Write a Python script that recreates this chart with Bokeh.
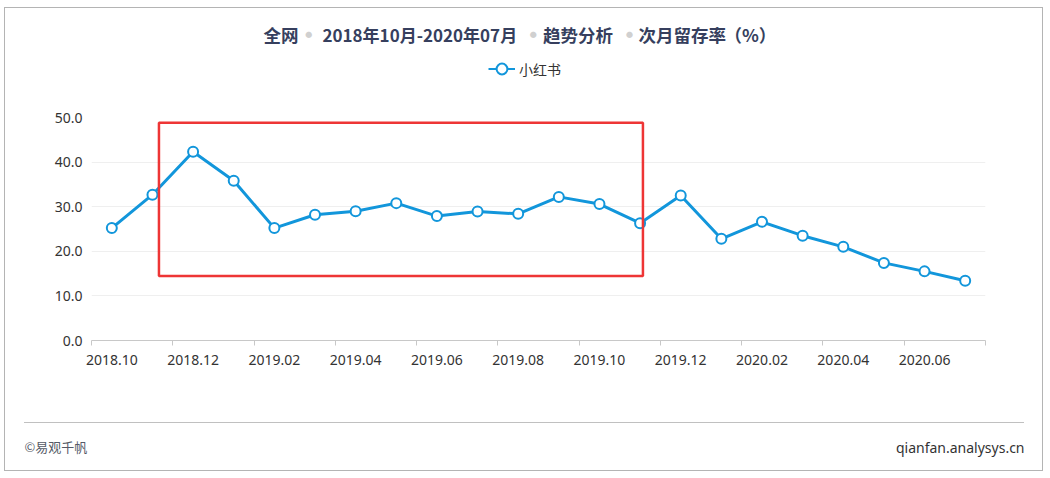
from bokeh.plotting import figure
from bokeh.layouts import column
from bokeh.models import (Range1d, FixedTicker, NumeralTickFormatter, Label, Legend,
                          LegendItem, BoxAnnotation)
from bokeh.embed import file_html
from bokeh.resources import INLINE

# ---------------- data ----------------
months = ["2018.10", "2018.11", "2018.12", "2019.01", "2019.02", "2019.03",
          "2019.04", "2019.05", "2019.06", "2019.07", "2019.08", "2019.09",
          "2019.10", "2019.11", "2019.12", "2020.01", "2020.02", "2020.03",
          "2020.04", "2020.05", "2020.06", "2020.07"]
retention = [25.2, 32.7, 42.3, 35.8, 25.2, 28.2,
             29.0, 30.8, 27.9, 28.9, 28.4, 32.2,
             30.6, 26.3, 32.5, 22.8, 26.6, 23.5,
             21.0, 17.4, 15.5, 13.4]
series_name = "小红书"
y_ticks = [0, 10, 20, 30, 40, 50]
title_parts = ["全网", "2018年10月-2020年07月", "趋势分析", "次月留存率", "（%）"]
footer_left = "©易观千帆"
footer_right = "qianfan.analysys.cn"

# ---------------- layout constants ----------------
W = 1037
TOP_H, MAIN_H, BOT_H = 92, 300, 70
FRAME_L, FRAME_W = 86, 894
FRAME_T, FRAME_H = 17, 223
N = len(months)
YMAX = 50

BLUE = "#1296db"
FONT = "Noto Sans CJK SC"
TITLE_COL = "#363f5e"
NAN = float("nan")

x_pos = [i + 0.5 for i in range(N)]


def plain_fig(h):
    f = figure(output_backend="svg", toolbar_location=None, width=W, height=h,
               x_range=Range1d(0, W), y_range=Range1d(h, 0),
               x_axis_location=None, y_axis_location=None,
               min_border=0, min_border_left=0, min_border_right=0,
               min_border_top=0, min_border_bottom=0, frame_align=False)
    f.outline_line_color = None
    f.grid.visible = False
    f.border_fill_color = "white"
    f.background_fill_color = "white"
    return f


# ---------------- main chart ----------------
p = figure(output_backend="svg", toolbar_location=None,
           frame_width=FRAME_W, frame_height=FRAME_H,
           min_border_left=FRAME_L, min_border_top=FRAME_T,
           min_border_right=W - FRAME_L - FRAME_W,
           min_border_bottom=MAIN_H - FRAME_T - FRAME_H,
           x_range=Range1d(0, N), y_range=Range1d(0, YMAX), frame_align=False)
p.outline_line_color = None
p.background_fill_color = "white"
p.border_fill_color = "white"

xax = p.xaxis[0]
xax.ticker = FixedTicker(ticks=x_pos[::2], minor_ticks=list(range(0, N + 1, 2)))
xax.major_label_overrides = {x_pos[i]: months[i] for i in range(0, N, 2)}
xax.major_tick_out = 0
xax.major_tick_in = 0
xax.minor_tick_out = 5
xax.minor_tick_in = 0
xax.minor_tick_line_color = "#c8c8c8"
xax.axis_line_color = "#c8c8c8"
xax.major_label_standoff = 9
xax.major_label_text_font = "Noto Sans"
xax.major_label_text_font_size = "14px"
xax.major_label_text_color = "#333333"

yax = p.yaxis[0]
yax.ticker = FixedTicker(ticks=y_ticks)
yax.formatter = NumeralTickFormatter(format="0.0")
yax.axis_line_color = None
yax.major_tick_line_color = None
yax.major_tick_out = 0
yax.major_tick_in = 0
yax.minor_tick_line_color = None
yax.minor_tick_out = 0
yax.major_label_standoff = 9
yax.major_label_text_font = "Noto Sans"
yax.major_label_text_font_size = "14px"
yax.major_label_text_color = "#333333"

p.xgrid.grid_line_color = None
p.ygrid.grid_line_color = "#efefef"
p.ygrid.ticker = FixedTicker(ticks=y_ticks)

r_line = p.line(x_pos, retention, line_color=BLUE, line_width=3)
r_pts = p.scatter(x_pos, retention, size=10, fill_color="white",
                  line_color=BLUE, line_width=2)

# highlight box (annotation drawn on the screenshot)
p.add_layout(BoxAnnotation(left=1.66, right=13.57, top=48.8, bottom=14.45,
                           fill_alpha=0, line_color="#ee3535", line_alpha=1,
                           line_width=2.5))

# ---------------- top: title + legend ----------------
top = plain_fig(TOP_H)
title_x = [258, 317, 537.5, 633, 719]
title_sizes = ["17.5px", "17px", "17.5px", "17.5px", "17.5px"]
for txt, px, fs in zip(title_parts, title_x, title_sizes):
    top.add_layout(Label(x=px, y=25.5, text=txt, text_font=FONT,
                         text_font_size=fs, text_font_style="bold",
                         text_color=TITLE_COL, text_baseline="middle",
                         text_align="left"))
for px in [303.3, 527.7, 624]:
    top.add_layout(Label(x=px, y=25.5, text="●", text_font=FONT,
                         text_font_size="7px", text_color="#d0d0d0",
                         text_baseline="middle", text_align="center"))

# legend swatch renderers (no visible data in this panel)
l_line = top.line([NAN], [NAN], line_color=BLUE, line_width=2)
l_pts = top.scatter([NAN], [NAN], size=10, fill_color="white", line_color=BLUE,
                    line_width=2)
legend = Legend(items=[LegendItem(label=series_name, renderers=[l_line, l_pts])],
                location=(483, 18), orientation="horizontal",
                padding=0, margin=0, spacing=0,
                glyph_width=27, glyph_height=27, label_height=27,
                label_standoff=4, label_text_font=FONT,
                label_text_font_size="14px", label_text_color="#333333",
                border_line_color=None, background_fill_alpha=0)
top.add_layout(legend, "center")

# ---------------- bottom: footer ----------------
bot = plain_fig(BOT_H)
bot.segment(x0=[19], y0=[22], x1=[1019], y1=[22], line_color="#808080",
            line_width=1, line_dash="1 1")
bot.add_layout(Label(x=19, y=46, text=footer_left, text_font=FONT,
                     text_font_size="13px", text_color="#555a66",
                     text_baseline="middle", text_align="left"))
bot.add_layout(Label(x=1019, y=47, text=footer_right, text_font="Noto Sans",
                     text_font_size="14px", text_color="#333333",
                     text_baseline="middle", text_align="right"))

layout = column(top, p, bot, spacing=0, margin=(7, 0, 0, 4),
                styles={"border": "1px solid #b4b4b4", "background": "white"})

open("out.html", "w").write(file_html(layout, INLINE))
